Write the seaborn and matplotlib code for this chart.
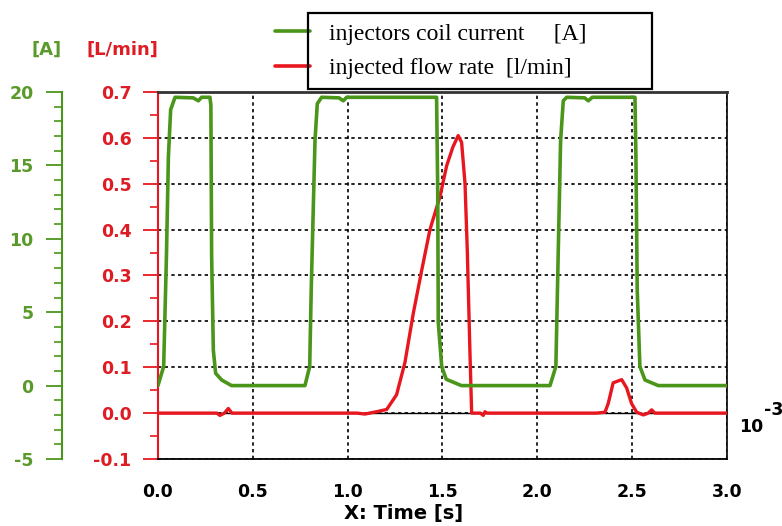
import numpy as np
import pandas as pd
import seaborn as sns
import matplotlib
matplotlib.use('Agg')
import matplotlib.pyplot as plt
from matplotlib.ticker import MultipleLocator, FormatStrFormatter
from matplotlib.lines import Line2D
from matplotlib.patches import Rectangle

# coil current [A] vs time [ms]
t_cur = [0.0, 0.03, 0.045, 0.055, 0.067, 0.09, 0.186, 0.213, 0.23, 0.274, 0.279, 0.283, 0.292,
         0.304, 0.336, 0.388, 0.775, 0.80, 0.808, 0.828, 0.84, 0.863, 0.955, 0.977, 0.995,
         1.469, 1.475, 1.478, 1.496, 1.52, 1.60, 2.067, 2.098, 2.11, 2.123, 2.137, 2.155,
         2.25, 2.269, 2.29, 2.515, 2.52, 2.527, 2.541, 2.568, 2.638, 3.0]
i_cur = [0.0, 1.3, 9.0, 15.6, 18.8, 19.64, 19.6, 19.4, 19.64, 19.64, 19.1, 8.8, 2.4,
         0.84, 0.38, 0.0, 0.0, 1.3, 6.5, 16.7, 19.2, 19.64, 19.6, 19.4, 19.64,
         19.64, 13.3, 4.3, 1.3, 0.43, 0.0, 0.0, 1.3, 8.8, 16.7, 19.4, 19.64,
         19.6, 19.4, 19.64, 19.64, 15.6, 6.5, 1.3, 0.38, 0.0, 0.0]

# injected flow rate [l/min] vs time [ms]
t_flow = [0.0, 0.31, 0.327, 0.35, 0.371, 0.39, 1.05, 1.091, 1.153, 1.206, 1.258, 1.302,
          1.346, 1.39, 1.434, 1.487, 1.522, 1.555, 1.583, 1.601, 1.619, 1.631, 1.645,
          1.654, 1.70, 1.715, 1.724, 1.735, 2.313, 2.357, 2.374, 2.40, 2.445, 2.471,
          2.497, 2.524, 2.559, 2.585, 2.603, 2.62, 3.0]
q_flow = [0.0, 0.0, -0.005, 0.0, 0.01, 0.0, 0.0, -0.002, 0.003, 0.008, 0.04, 0.11,
          0.217, 0.31, 0.40, 0.472, 0.539, 0.58, 0.605, 0.59, 0.50, 0.354, 0.132,
          0.0, 0.0, -0.005, 0.003, 0.0, 0.0, 0.002, 0.021, 0.066, 0.073, 0.055,
          0.021, 0.002, -0.004, 0.0, 0.007, 0.0, 0.0]

legend_labels = ['injectors coil current     [A]', 'injected flow rate  [l/min]']

GREEN = '#4a961a'
GREEN_TXT = '#5a9a2a'
RED = '#e8161e'
RED_TXT = '#de1c24'

sns.set_style('white')
plt.rcParams['font.family'] = ['DejaVu Sans']
plt.rcParams['axes.unicode_minus'] = False
plt.rcParams['text.color'] = 'black'

df_cur = pd.DataFrame({'t': t_cur, 'i': i_cur})
df_flow = pd.DataFrame({'t': t_flow, 'q': q_flow})

fig = plt.figure(figsize=(7.82, 5.26), dpi=100)
ax = fig.add_axes([0.2020, 0.1274, 0.7276, 0.6977])
ax2 = ax.twinx()

ax.axhline(0, color='black', lw=1.0, zorder=1.5)
sns.lineplot(data=df_flow, x='t', y='q', ax=ax, color=RED, lw=2.4, zorder=3)
sns.lineplot(data=df_cur, x='t', y='i', ax=ax2, color=GREEN, lw=2.6, zorder=3)

ax.set_xlim(0, 3.0)
ax.set_ylim(-0.1, 0.7)
ax2.set_ylim(-5, 20)
ax.set_xlabel('')
ax.set_ylabel('')
ax2.set_ylabel('')

ax.xaxis.set_major_locator(MultipleLocator(0.5))
ax.xaxis.set_minor_locator(MultipleLocator(0.1))
ax.yaxis.set_major_locator(MultipleLocator(0.1))
ax.yaxis.set_minor_locator(MultipleLocator(0.05))
ax.xaxis.set_major_formatter(FormatStrFormatter('%.1f'))
ax.yaxis.set_major_formatter(FormatStrFormatter('%.1f'))
ax2.yaxis.set_major_locator(MultipleLocator(5))
ax2.yaxis.set_minor_locator(MultipleLocator(1))

ax.grid(True, which='major', color='black', linestyle=(0, (2, 2)), lw=1.2)

# spines
ax.spines['left'].set_color(RED)
ax.spines['left'].set_linewidth(1.5)
ax.spines['bottom'].set_color('black')
ax.spines['bottom'].set_linewidth(1.3)
ax.spines['top'].set_color('#333333')
ax.spines['top'].set_linewidth(2.0)
ax.spines['right'].set_color('black')
ax.spines['right'].set_linewidth(1.2)
for s in ['right', 'top', 'bottom']:
    ax2.spines[s].set_visible(False)
ax2.spines['left'].set_visible(True)
ax2.spines['left'].set_position(('outward', 69))
ax2.spines['left'].set_color(GREEN)
ax2.spines['left'].set_linewidth(1.5)
ax2.yaxis.set_ticks_position('left')
ax2.yaxis.set_label_position('left')

ax.tick_params(axis='x', which='major', direction='out', length=11, width=1.3,
               color='black', labelcolor='black', pad=6, labelsize=12.5)
ax.tick_params(axis='x', which='minor', direction='out', length=6, width=1.2, color='black')
ax.tick_params(axis='y', which='major', direction='out', length=11, width=1.3,
               color=RED, labelcolor=RED_TXT, pad=8, labelsize=12.5)
ax.tick_params(axis='y', which='minor', direction='out', length=5.5, width=1.2, color=RED)
ax2.tick_params(axis='y', which='major', direction='out', length=11.5, width=1.3,
                color=GREEN, labelcolor=GREEN_TXT, pad=9, labelsize=12.5)
ax2.tick_params(axis='y', which='minor', direction='out', length=5.5, width=1.2, color=GREEN)
for lab in ax.get_xticklabels() + ax.get_yticklabels() + ax2.get_yticklabels():
    lab.set_fontweight('bold')

# axis headers and labels
fig.text(47 / 782, 1 - 50 / 526, '[A]', color=GREEN_TXT, fontsize=13, fontweight='bold',
         ha='center', va='center')
fig.text(122 / 782, 1 - 50 / 526, '[L/min]', color=RED_TXT, fontsize=13, fontweight='bold',
         ha='center', va='center')
fig.text(404 / 782, 1 - 513 / 526, 'X: Time [s]', color='black', fontsize=14,
         fontweight='bold', ha='center', va='center')
fig.text(739 / 782, 1 - 427 / 526, '10', color='black', fontsize=12.5, fontweight='bold',
         ha='left', va='center')
fig.text(764 / 782, 1 - 410 / 526, '-3', color='black', fontsize=12.5, fontweight='bold',
         ha='left', va='center')

# legend with handles sitting outside the box
handles = [Line2D([], [], color=GREEN, lw=2.6), Line2D([], [], color=RED, lw=2.6)]
fig.legend(handles, legend_labels, loc='upper left', bbox_to_anchor=(275 / 782, 1 - 23 / 526),
           frameon=False, borderpad=0, borderaxespad=0, handlelength=1.5, handletextpad=0.8,
           labelspacing=0.55, labelcolor='black',
           prop={'family': 'Liberation Serif', 'size': 17})
fig.patches.append(Rectangle((308 / 782, 1 - 89 / 526), 344 / 782, 76 / 526, fill=False,
                             edgecolor='black', lw=1.6, transform=fig.transFigure,
                             figure=fig, zorder=6))

fig.savefig('out.png', dpi=100)
